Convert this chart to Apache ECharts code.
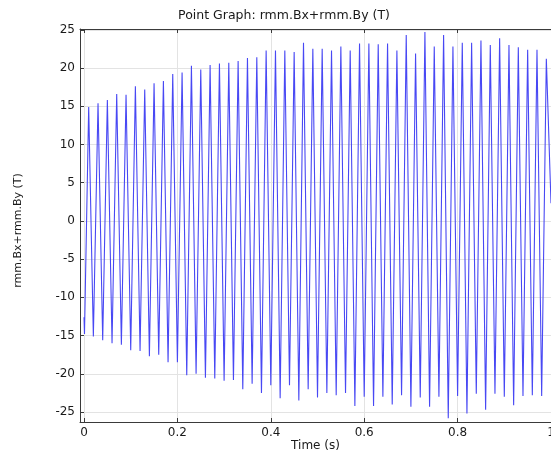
<!DOCTYPE html>
<html>
<head>
<meta charset="utf-8">
<script src="https://cdn.jsdelivr.net/npm/echarts@6/dist/echarts.min.js"></script>
<style>
html,body{margin:0;padding:0;background:#fff;}
#chart{width:551px;height:452px;}
</style>
</head>
<body>
<div id="chart"></div>
<script>
// ---- data ----
const titleText = 'Point Graph: rmm.Bx+rmm.By (T)';
const xName = 'Time (s)';
const yName = 'rmm.Bx+rmm.By (T)';
const xTicks = [0, 0.2, 0.4, 0.6, 0.8, 1];
const yTicks = [-25, -20, -15, -10, -5, 0, 5, 10, 15, 20, 25];

const startTime = 0;
const startValue = -12.6;
const endTime = 1.0;
const endValue = 2.3;

const troughTimes = [0.001,0.02,0.04,0.06,0.08,0.10,0.12,0.14,0.16,0.18,
  0.20,0.22,0.24,0.26,0.28,0.30,0.32,0.34,0.36,0.38,
  0.40,0.42,0.44,0.46,0.48,0.50,0.52,0.54,0.56,0.58,
  0.60,0.62,0.64,0.66,0.68,0.70,0.72,0.74,0.76,0.78,
  0.80,0.82,0.84,0.86,0.88,0.90,0.92,0.94,0.96,0.98];
const troughValues = [-14.8,-15.1,-15.6,-16.0,-16.2,-16.9,-17.0,-17.7,-17.5,-18.5,
  -18.5,-20.2,-20.0,-20.5,-20.6,-20.9,-20.8,-22.0,-21.3,-22.5,
  -21.5,-23.2,-21.5,-23.5,-22.0,-23.1,-22.5,-22.8,-22.5,-24.2,
  -23.0,-24.2,-23.0,-24.0,-22.8,-24.3,-23.1,-24.3,-23.0,-25.8,
  -22.9,-25.2,-22.6,-24.7,-22.6,-23.0,-24.1,-22.9,-22.8,-22.9];

const peakTimes = [0.01,0.03,0.05,0.07,0.09,0.11,0.13,0.15,0.17,0.19,
  0.21,0.23,0.25,0.27,0.29,0.31,0.33,0.35,0.37,0.39,
  0.41,0.43,0.45,0.47,0.49,0.51,0.53,0.55,0.57,0.59,
  0.61,0.63,0.65,0.67,0.69,0.71,0.73,0.75,0.77,0.79,
  0.81,0.83,0.85,0.87,0.89,0.91,0.93,0.95,0.97,0.99];
const peakValues = [14.9,15.4,15.8,16.6,16.5,17.6,17.2,18.0,18.3,19.2,
  19.4,20.3,19.8,20.4,20.6,20.7,20.9,21.3,21.4,22.3,
  22.3,22.3,22.1,23.3,22.5,22.5,22.3,22.8,22.3,23.2,
  23.2,23.1,23.2,22.3,24.3,21.9,24.7,22.8,24.3,22.8,
  23.3,23.3,23.6,23.0,23.9,23.0,22.7,22.4,22.4,21.2];

// ---- build series ----
const seriesData = [[startTime, startValue]];
for (let k = 0; k < troughTimes.length; k++) {
  seriesData.push([troughTimes[k], troughValues[k]]);
  seriesData.push([peakTimes[k], peakValues[k]]);
}
seriesData.push([endTime, endValue]);

const FONT = '"DejaVu Sans", sans-serif';
const AX = '#3a3a3a';
const GRIDC = '#e3e3e3';

function isTick(v, list) { return list.some(t => Math.abs(t - v) < 1e-6); }

const chart = echarts.init(document.getElementById('chart'), null, {renderer: 'canvas'});
chart.setOption({
  animation: false,
  backgroundColor: '#ffffff',
  graphic: [{
    type: 'text', x: 284, y: 16,
    style: {text: titleText, font: '12.5px ' + FONT, fill: '#1a1a1a', align: 'center', verticalAlign: 'middle'}
  }],
  grid: {left: 80, right: 0, top: 29, bottom: 30, containLabel: false, outerBoundsMode: 'none'},
  xAxis: [{
    type: 'value', min: -0.0086, max: 1.0, position: 'bottom', splitNumber: 5,
    name: xName, nameLocation: 'middle', nameGap: 18, nameMoveOverlap: false,
    nameTextStyle: {fontFamily: FONT, fontSize: 12, color: '#1a1a1a'},
    axisLine: {show: true, onZero: false, lineStyle: {color: AX, width: 1}},
    axisTick: {show: true, inside: true, length: 4, lineStyle: {color: AX}},
    axisLabel: {fontFamily: FONT, fontSize: 12, color: '#1a1a1a', margin: 5,
      showMinLabel: true, showMaxLabel: true,
      formatter: v => isTick(v, xTicks) ? String(Math.round(v * 10) / 10) : ''},
    splitLine: {show: true, lineStyle: {color: GRIDC, width: 1}}
  }, {
    type: 'value', min: -0.0086, max: 1.0, position: 'top', splitNumber: 5,
    axisLine: {show: true, onZero: false, lineStyle: {color: AX, width: 1}},
    axisTick: {show: true, inside: true, length: 4, lineStyle: {color: AX}},
    axisLabel: {show: false},
    splitLine: {show: false}
  }],
  yAxis: [{
    type: 'value', min: -26.3, max: 25.1, splitNumber: 10,
    name: yName, nameLocation: 'middle', nameGap: 56, nameRotate: 90, nameMoveOverlap: false,
    nameTextStyle: {fontFamily: FONT, fontSize: 11, color: '#1a1a1a', padding: [0, 10, 0, 0]},
    axisLine: {show: true, onZero: false, lineStyle: {color: AX, width: 1}},
    axisTick: {show: true, inside: true, length: 4, lineStyle: {color: AX}},
    axisLabel: {fontFamily: FONT, fontSize: 12, color: '#1a1a1a', margin: 5,
      formatter: v => isTick(v, yTicks) ? String(Math.round(v)) : ''},
    splitLine: {show: true, lineStyle: {color: GRIDC, width: 1}}
  }],
  series: [{
    type: 'line', xAxisIndex: 0, yAxisIndex: 0,
    data: seriesData, showSymbol: false, symbol: 'none',
    lineStyle: {color: '#4848f4', width: 1.1},
    clip: true
  }]
});
</script>
</body>
</html>
